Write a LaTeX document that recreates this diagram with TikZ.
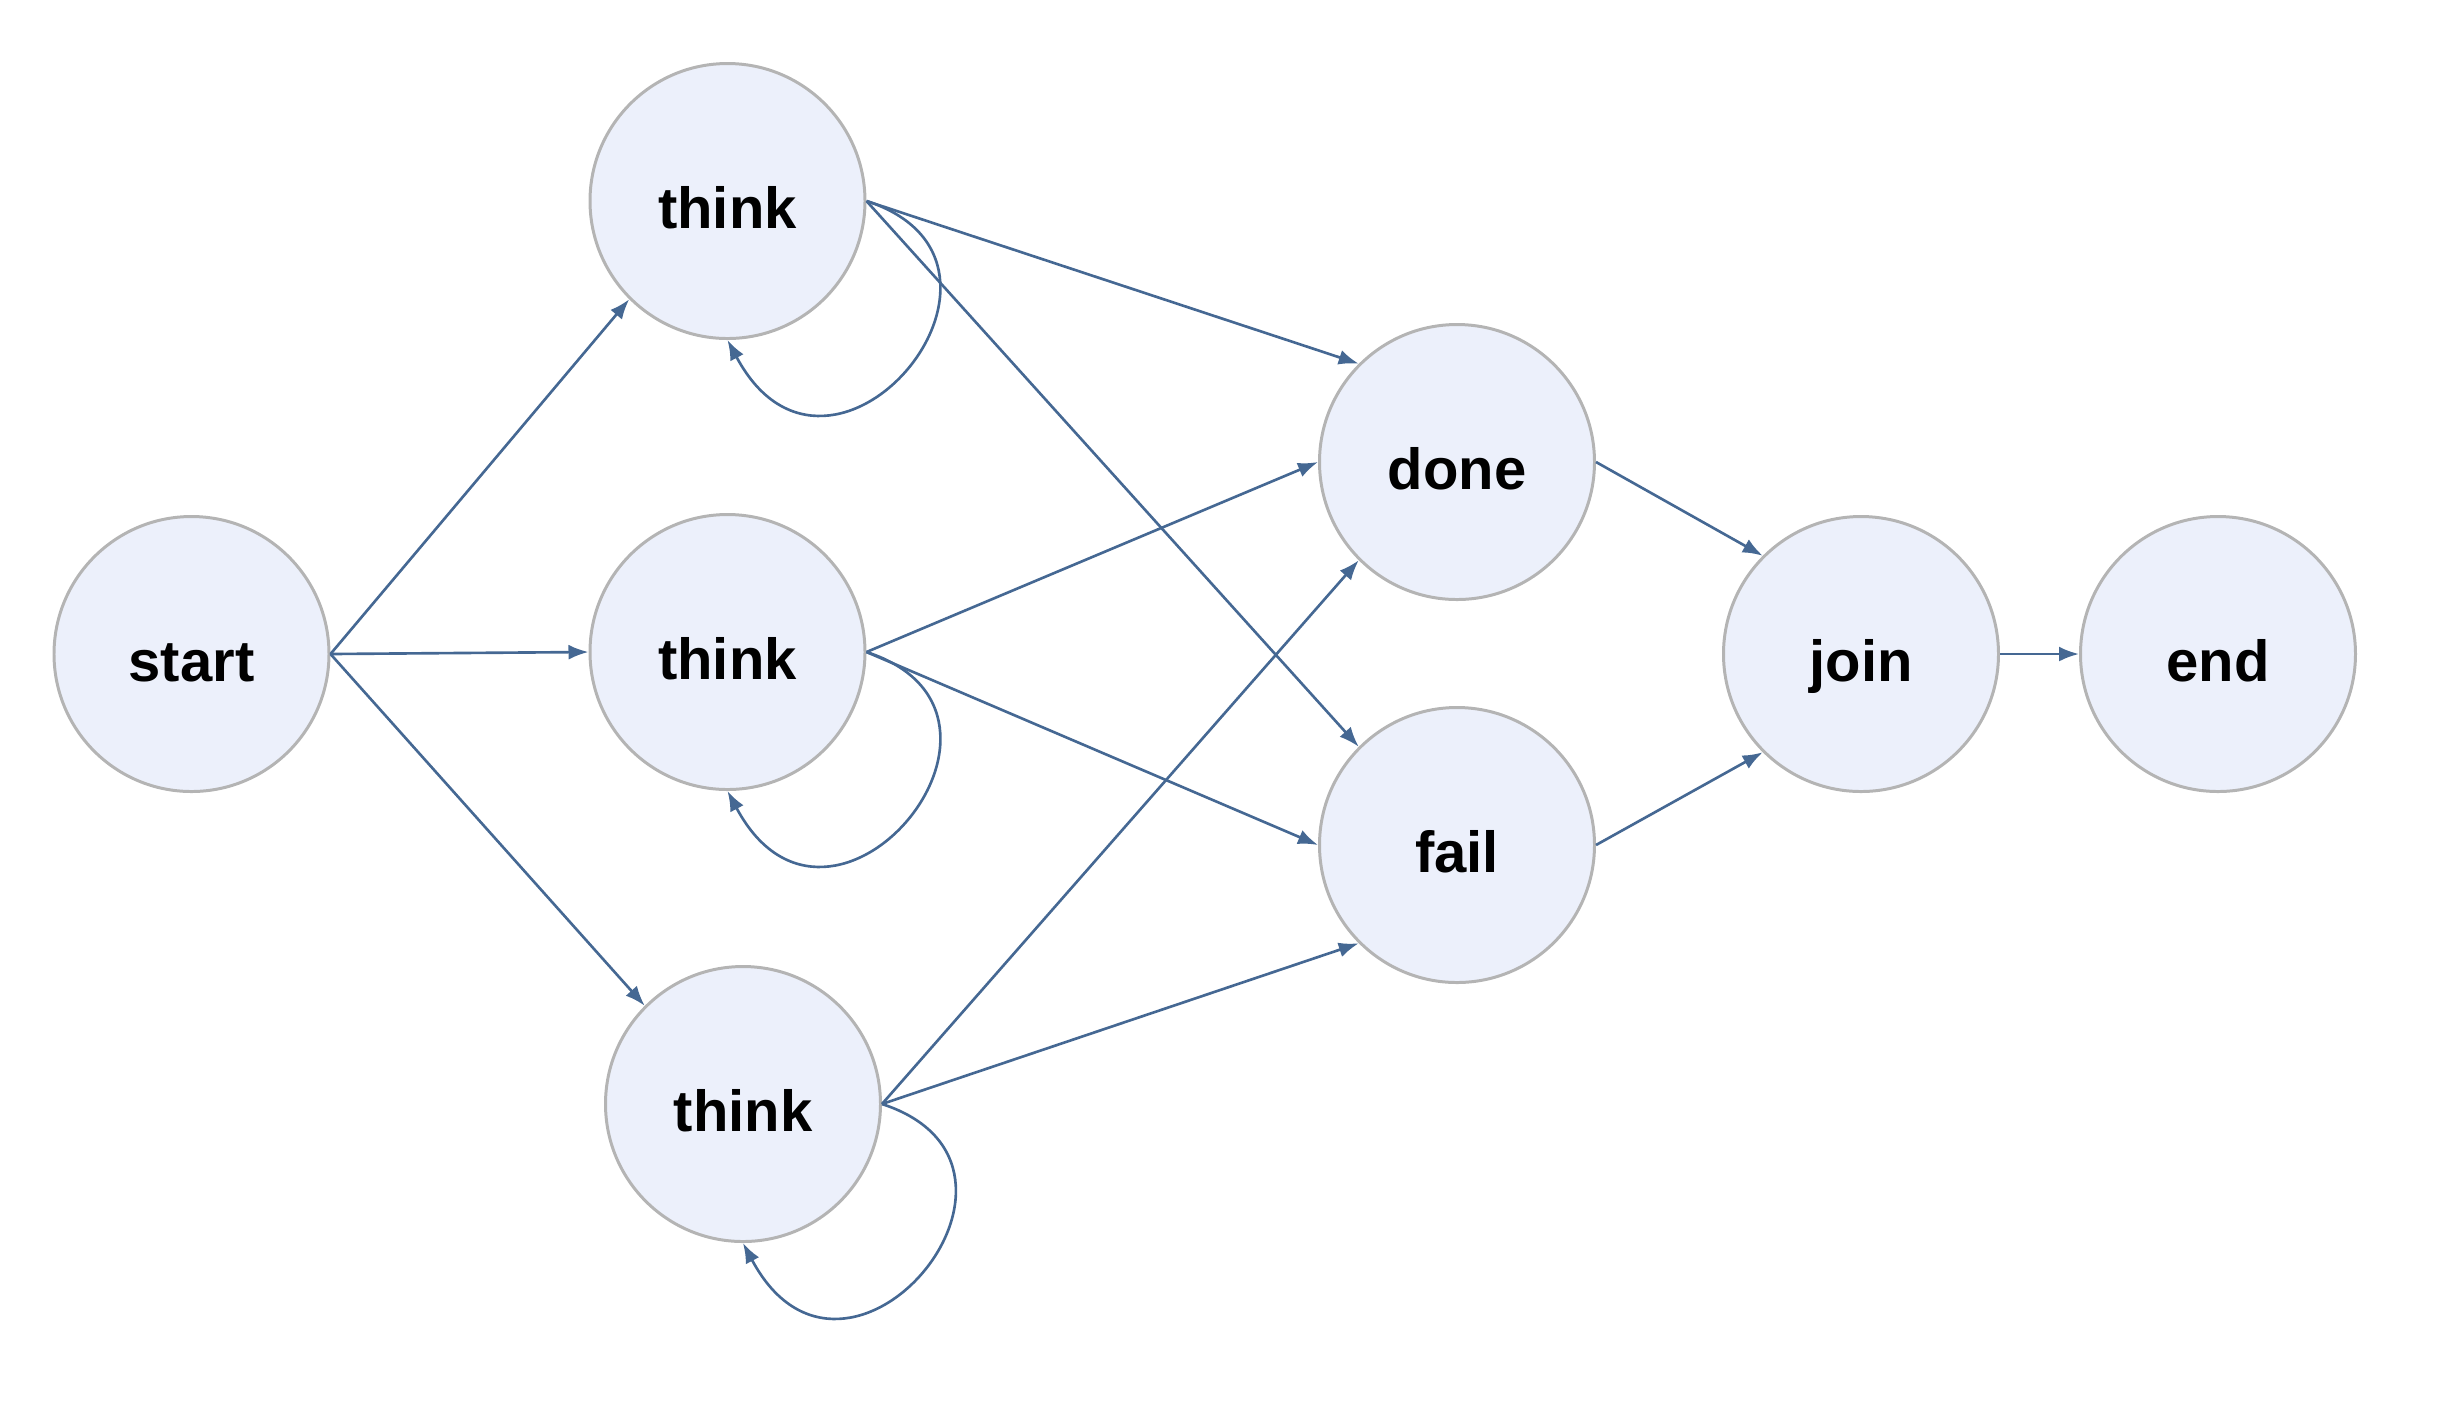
\documentclass[tikz,border=0pt]{standalone}
\usepackage{fontspec}
\setmainfont{Liberation Sans}
\usetikzlibrary{arrows.meta}
\definecolor{nodefill}{HTML}{ECF0FB}
\definecolor{nodeline}{HTML}{B4B4B4}
\definecolor{flowblue}{HTML}{456893}
\begin{document}
\begin{tikzpicture}[
    vertex/.style={circle, draw=nodeline, line width=0.85pt, fill=nodefill,
      minimum size=2.75cm, inner sep=0pt, text height=0.54cm, text depth=0cm,
      font=\fontsize{16.5}{20}\selectfont\bfseries},
    flow/.style={draw=flowblue, line width=0.75pt, -{Latex[length=0.2cm,width=0.15cm]}},
    selfloop/.style={flow, out=-18, in=-62, out distance=2.0cm, in distance=2.2cm}
  ]
  \useasboundingbox (0,0) rectangle (24.41,-14.13);
  \node [vertex] (start)  at (1.915,-6.54) {start};
  \node [vertex] (think1) at (7.275,-2.01) {think};
  \node [vertex] (think2) at (7.275,-6.52) {think};
  \node [vertex] (think3) at (7.43,-11.04) {think};
  \node [vertex] (done)   at (14.57,-4.62) {done};
  \node [vertex] (fail)   at (14.57,-8.45) {fail};
  \node [vertex] (join)   at (18.61,-6.54) {join};
  \node [vertex] (end)    at (22.18,-6.54) {end};
  % fan out
  \draw [flow] (start.east) -- (think1.225);
  \draw [flow] (start.east) -- (think2.west);
  \draw [flow] (start.east) -- (think3.135);
  % each think retries itself
  \draw [selfloop] (think1.east) to (think1.south);
  \draw [selfloop] (think2.east) to (think2.south);
  \draw [selfloop] (think3.east) to (think3.south);
  \draw [flow] (think1.east) -- (done.135);
  \draw [flow] (think1.east) -- (fail.135);
  \draw [flow] (think2.east) -- (done.west);
  \draw [flow] (think2.east) -- (fail.west);
  \draw [flow] (think3.east) -- (done.225);
  \draw [flow] (think3.east) -- (fail.225);
  % fan in
  \draw [flow] (done.east) -- (join.135);
  \draw [flow] (fail.east) -- (join.225);
  \draw [flow] (join.east) -- (end.west);
\end{tikzpicture}
\end{document}
